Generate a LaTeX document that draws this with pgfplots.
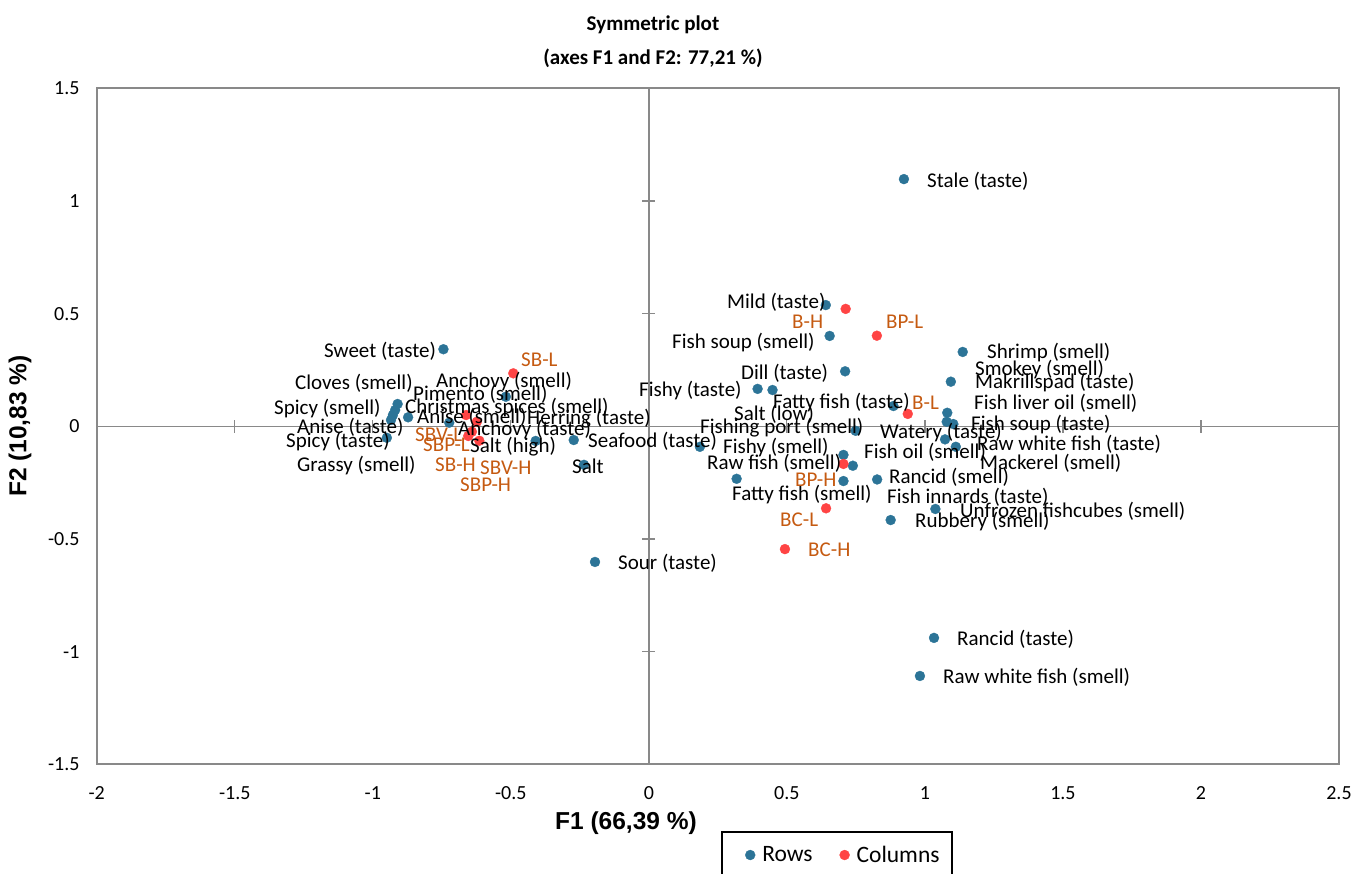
\documentclass[border=0pt]{standalone}
\usepackage{fontspec}
\setmainfont{Carlito}
\newfontfamily\arialfont{Liberation Sans}
\usepackage{pgfplots}
\pgfplotsset{compat=1.18}
\definecolor{rowc}{HTML}{2C7497}
\definecolor{colc}{HTML}{FF4444}
\definecolor{labc}{HTML}{C55A11}
\definecolor{framec}{HTML}{898989}
\newcommand\labfont{\fontsize{21bp}{24bp}\selectfont}
\newcommand\lb[3]{\node[anchor=west,inner sep=0pt,font=\labfont] at (#1bp,874bp-#2bp) {#3};}
\newcommand\lo[3]{\node[anchor=west,inner sep=0pt,font=\labfont,text=labc] at (#1bp,874bp-#2bp) {#3};}
\begin{document}
\begin{tikzpicture}
\useasboundingbox (0,0) rectangle (1354bp,874bp);
\begin{axis}[
  at={(96.7bp,109.7bp)}, anchor=south west,
  scale only axis, width=1242.3bp, height=676bp,
  xmin=-2, xmax=2.5, ymin=-1.5, ymax=1.5,
  axis line style={framec, line width=2bp},
  xtick={-2,-1.5,-1,-0.5,0,0.5,1,1.5,2,2.5},
  xticklabels={-2,-1.5,-1,-0.5,0,0.5,1,1.5,2,2.5},
  ytick={-1.5,-1,-0.5,0,0.5,1,1.5},
  yticklabels={-1.5,-1,-0.5,0,0.5,1,1.5},
  major tick length=0pt,
  tick label style={font=\fontsize{20bp}{24bp}\selectfont},
  xticklabel style={anchor=center, yshift=-29bp, inner sep=0pt},
  yticklabel style={anchor=east, xshift=-17bp, inner sep=0pt},
  clip=false,
  legend columns=2,
  legend image code/.code={\draw[mark repeat=2,mark phase=2,#1] plot coordinates {(0bp,0bp) (5bp,0bp) (10bp,0bp)};},
  legend style={at={(rel axis cs:0.5219,-0.1342)}, anchor=west, draw=none, fill=none,
    font=\fontsize{23.5bp}{27bp}\selectfont, inner xsep=0pt, inner ysep=0pt,
    nodes={inner sep=1bp},
    /tikz/every odd column/.append style={column sep=6bp},
    /tikz/every even column/.append style={column sep=26bp}},
]
\draw[framec, line width=1.5bp] (axis cs:-2,0) -- (axis cs:2.5,0);
\draw[framec, line width=1.5bp] (axis cs:0,-1.5) -- (axis cs:0,1.5);
\pgfplotsinvokeforeach{-1.5,-1,-0.5,0.5,1,1.5,2}{\draw[framec, line width=1.2bp] (axis cs:#1,0) ++(0bp,-6.5bp) -- ++(0bp,13bp);}
\pgfplotsinvokeforeach{-1,-0.5,0.5,1}{\draw[framec, line width=1.2bp] (axis cs:0,#1) ++(-6.5bp,0bp) -- ++(13bp,0bp);}
\addplot[only marks, mark=*, mark size=5bp, mark options={fill=rowc, draw=rowc, line width=0.3bp}] coordinates {
(0.924,1.097) (0.641,0.538) (0.655,0.401) (0.711,0.244) (0.394,0.166) (0.448,0.161)
(0.886,0.090) (0.749,-0.020) (0.185,-0.091) (0.705,-0.127) (0.739,-0.175) (0.318,-0.233)
(0.705,-0.243) (0.827,-0.236) (1.038,-0.367) (0.876,-0.416) (1.137,0.330) (1.094,0.198)
(1.081,0.060) (1.079,0.020) (1.103,0.010) (1.073,-0.058) (1.112,-0.091)
(1.033,-0.939) (0.982,-1.108) (-0.195,-0.602) (-0.235,-0.171) (-0.272,-0.061)
(-0.410,-0.065) (-0.518,0.131) (-0.723,0.016) (-0.872,0.040) (-0.744,0.342)
(-0.910,0.099) (-0.919,0.072) (-0.927,0.050) (-0.934,0.028) (-0.949,-0.051)
};
\addlegendentry{Rows}
\addplot[only marks, mark=*, mark size=5bp, mark options={fill=colc, draw=colc, line width=0.3bp}] coordinates {
(-0.491,0.235) (0.713,0.521) (0.826,0.402) (0.938,0.055) (0.705,-0.167) (0.642,-0.364)
(0.493,-0.545) (-0.662,0.050) (-0.623,0.020) (-0.654,-0.043) (-0.614,-0.064) (-0.641,-0.024)
};
\addlegendentry{Columns}
\end{axis}
% legend frame
\draw[black, line width=1.8bp] (722bp,-10bp) -- (722bp,874bp-832bp) -- (952bp,874bp-832bp) -- (952bp,-10bp);
% titles
\node[font=\bfseries\fontsize{21bp}{25bp}\selectfont] at (653bp,849bp) {Symmetric plot};
\node[font=\bfseries\fontsize{21bp}{25bp}\selectfont] at (653bp,816bp) {(axes F1 and F2: 77,21 \%)};
\node[font=\arialfont\bfseries\fontsize{24.5bp}{28bp}\selectfont] at (626bp,51bp) {F1 (66,39 \%)};
\node[font=\arialfont\bfseries\fontsize{24.5bp}{28bp}\selectfont, rotate=90] at (20bp,448bp) {F2 (10,83 \%)};
% row labels
\lb{927}{181}{Stale (taste)}
\lb{727}{302}{Mild (taste)}
\lb{672}{343}{Fish soup (smell)}
\lb{741}{373}{Dill (taste)}
\lb{639}{391}{Fishy (taste)}
\lb{773}{403}{Fatty fish (taste)}
\lb{734}{414}{Salt (low)}
\lb{700}{428}{Fishing port (smell)}
\lb{880}{433}{Watery (taste)}
\lb{723}{448}{Fishy (smell)}
\lb{864}{452}{Fish oil (smell)}
\lb{707}{463}{Raw fish (smell)}
\lb{889}{477}{Rancid (smell)}
\lb{732}{495}{Fatty fish (smell)}
\lb{887}{497}{Fish innards (taste)}
\lb{915}{522}{Rubbery (smell)}
\lb{960}{511}{Unfrozen fishcubes (smell)}
\lb{987}{353}{Shrimp (smell)}
\lb{975}{370}{Smokey (smell)}
\lb{975}{383}{Makrillspad (taste)}
\lb{974}{403}{Fish liver oil (smell)}
\lb{971}{425}{Fish soup (taste)}
\lb{977}{444}{Raw white fish (taste)}
\lb{980}{463}{Mackerel (smell)}
\lb{957}{639}{Rancid (taste)}
\lb{943}{677}{Raw white fish (smell)}
\lb{618}{563}{Sour (taste)}
\lb{572}{466}{Salt}
\lb{588}{441}{Seafood (taste)}
\lb{470}{447}{Salt (high)}
\lb{458}{430}{Anchovy (taste)}
\lb{527}{419}{Herring (taste)}
\lb{417}{417}{Anise (smell)}
\lb{405}{408}{Christmas spices (smell)}
\lb{413}{394}{Pimento (smell)}
\lb{436}{382}{Anchovy (smell)}
\lb{324}{351}{Sweet (taste)}
\lb{295}{383}{Cloves (smell)}
\lb{274}{409}{Spicy (smell)}
\lb{297}{427}{Anise (taste)}
\lb{286}{442}{Spicy (taste)}
\lb{297}{466}{Grassy (smell)}
% column labels
\lo{521}{360}{SB-L}
\lo{792}{322}{B-H}
\lo{886}{322}{BP-L}
\lo{912}{403}{B-L}
\lo{795}{480}{BP-H}
\lo{780}{520}{BC-L}
\lo{808}{550}{BC-H}
\lo{415}{435}{SBV-L}
\lo{423}{445}{SBP-L}
\lo{435}{465}{SB-H}
\lo{480}{468}{SBV-H}
\lo{460}{485}{SBP-H}
\end{tikzpicture}
\end{document}
